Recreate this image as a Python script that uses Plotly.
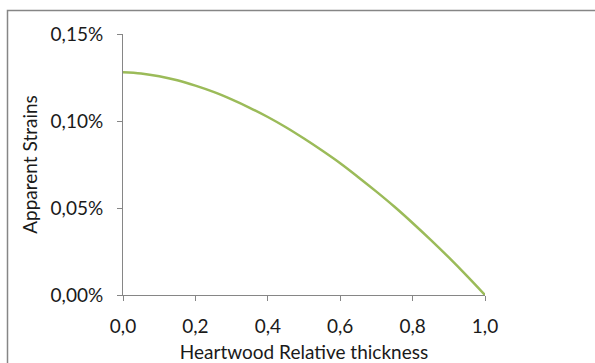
import plotly.graph_objects as go

x_vals = [0.0, 0.05, 0.10, 0.15, 0.20, 0.25, 0.30, 0.35, 0.40, 0.45, 0.50,
          0.55, 0.60, 0.65, 0.70, 0.75, 0.80, 0.85, 0.90, 0.95, 1.0]
strain_pct = [0.1280, 0.1273, 0.1257, 0.1234, 0.1203, 0.1167, 0.1124, 0.1076,
              0.1023, 0.0964, 0.0899, 0.0830, 0.0757, 0.0677, 0.0594, 0.0507,
              0.0414, 0.0317, 0.0216, 0.0110, 0.0]
y_tick_vals = [0.0, 0.05, 0.10, 0.15]
y_tick_text = ["0,00%", "0,05%", "0,10%", "0,15%"]
x_tick_vals = [0.0, 0.2, 0.4, 0.6, 0.8, 1.0]
x_tick_text = ["0,0", "0,2", "0,4", "0,6", "0,8", "1,0"]

W, H = 595, 363
L, R, T, B = 123, 110, 34, 67.5

fig = go.Figure()
fig.add_trace(go.Scatter(x=x_vals, y=strain_pct, mode="lines",
                         line=dict(color="#9BBB59", width=2.5, shape="spline"),
                         showlegend=False))

font = dict(family="Lato, Open Sans, sans-serif", size=19, color="#1a1a1a")
pw = W - L - R
ph = H - T - B
fig.update_layout(
    width=W, height=H,
    margin=dict(l=L, r=R, t=T, b=B, autoexpand=False),
    paper_bgcolor="white", plot_bgcolor="white",
    font=font,
    xaxis=dict(range=[0, 1.0], tickvals=x_tick_vals, ticktext=x_tick_text,
               showgrid=False, zeroline=False, showline=True, linecolor="#868686",
               linewidth=1, ticks="outside", ticklen=5, tickcolor="#868686",
               tickfont=font, automargin=False, ticklabelstandoff=9,
               title=dict(text="Heartwood Relative thickness", font=font, standoff=11)),
    yaxis=dict(range=[0, 0.15], tickvals=y_tick_vals, ticktext=y_tick_text,
               showgrid=False, zeroline=False, showline=True, linecolor="#868686",
               linewidth=1, ticks="outside", ticklen=5, tickcolor="#868686",
               tickfont=font, automargin=False, ticklabelstandoff=10,
               title=dict(text="Apparent Strains", font=font, standoff=7)),
    shapes=[dict(type="rect", xref="paper", yref="paper",
                 x0=(7.5 - L) / pw, x1=(620 - L) / pw,
                 y0=(H - B - 400) / ph, y1=(H - B - 10.5) / ph,
                 line=dict(color="#868686", width=1.5), fillcolor="rgba(0,0,0,0)")],
)
fig.write_html("out.html", config={"displayModeBar": False},
               post_script="document.body.style.margin='0';document.body.style.overflow='hidden';")
